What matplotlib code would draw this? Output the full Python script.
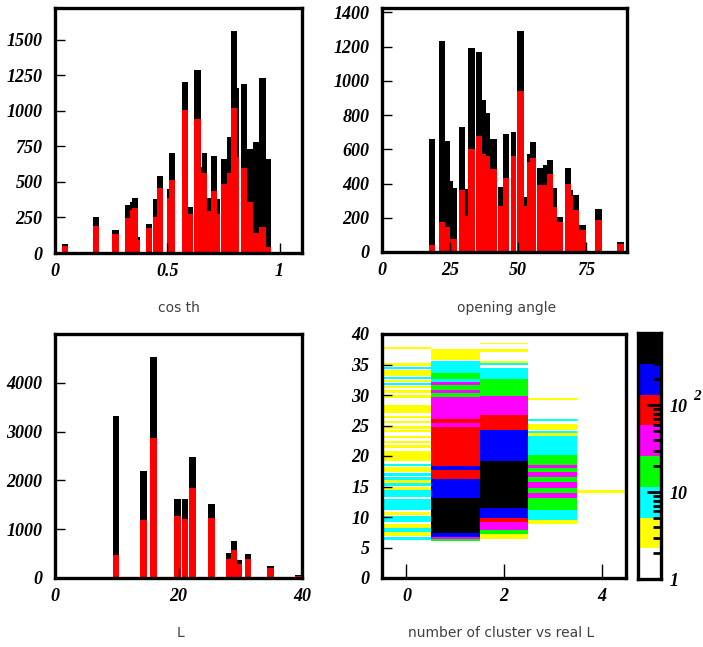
import numpy as np
import matplotlib
matplotlib.use('Agg')
from matplotlib import pyplot as plt
from matplotlib.colors import ListedColormap, LogNorm
from matplotlib.ticker import LogLocator, NullFormatter

# ---- cos th histogram: bar edges, all (black) and selected (red)
cos_lo  = [0.033, 0.170, 0.256, 0.311, 0.332, 0.344, 0.368, 0.404, 0.435, 0.456, 0.497, 0.509,
           0.564, 0.591, 0.619, 0.649, 0.653, 0.679, 0.695, 0.723, 0.738, 0.768, 0.783, 0.812,
           0.827, 0.854, 0.884, 0.910, 0.940]
cos_hi  = [0.059, 0.197, 0.283, 0.332, 0.344, 0.368, 0.380, 0.431, 0.456, 0.483, 0.509, 0.536,
           0.591, 0.613, 0.649, 0.653, 0.679, 0.695, 0.723, 0.735, 0.768, 0.783, 0.812, 0.821,
           0.854, 0.884, 0.910, 0.940, 0.961]
cos_all = [61, 253, 162, 338, 361, 385, 115, 204, 380, 545, 448, 702,
           1207, 326, 1289, 608, 702, 385, 685, 380, 660, 815, 1563, 1160,
           1188, 730, 784, 1230, 660]
cos_sel = [52, 190, 131, 249, 303, 315, 92, 176, 256, 460, 385, 514,
           1007, 272, 941, 561, 566, 298, 439, 272, 484, 561, 1019, 678,
           601, 361, 139, 181, 45]

# ---- opening angle histogram
ang_lo  = [17.4, 21.1, 23.2, 25.0, 26.0, 28.2, 30.6, 31.7, 34.6, 36.6, 38.2, 39.7, 42.7, 44.3,
           47.3, 49.6, 52.2, 53.4, 54.4, 57.1, 59.0, 60.5, 62.7, 64.4, 67.3, 69.3, 70.3, 72.2,
           78.3, 86.4]
ang_hi  = [19.6, 23.2, 25.0, 26.0, 27.7, 30.6, 31.7, 34.2, 36.6, 38.2, 39.7, 42.1, 44.3, 46.8,
           49.2, 52.2, 53.4, 54.4, 56.6, 59.0, 60.5, 62.7, 64.4, 66.4, 69.3, 70.3, 72.2, 74.9,
           80.8, 88.9]
ang_all = [661, 1235, 648, 414, 375, 731, 366, 1189, 1167, 885, 813, 658, 381, 687,
           700, 1288, 321, 574, 640, 490, 510, 539, 374, 202, 490, 360, 335, 160,
           253, 60]
ang_sel = [39, 175, 146, 78, 78, 360, 210, 603, 677, 570, 560, 482, 268, 434,
           558, 938, 270, 523, 549, 393, 393, 457, 263, 175, 399, 325, 247, 130,
           189, 47]

# ---- L histogram
L_lo  = [9.45, 13.8, 15.4, 19.3, 20.5, 21.7, 24.8, 27.7, 28.5, 29.5, 30.8, 34.4, 38.8]
L_hi  = [10.4, 14.85, 16.5, 20.4, 21.5, 22.8, 25.9, 28.5, 29.5, 30.3, 31.8, 35.4, 39.8]
L_all = [3317, 2195, 4534, 1627, 1627, 2482, 1525, 520, 759, 362, 499, 253, 62]
L_sel = [479, 1198, 2865, 1265, 1217, 1846, 1231, 397, 567, 294, 397, 198, 48]

# ---- number of cluster vs real L : per column (L from, L to, entries)
ncl_0 = [(37.5, 37.9, 3), (34.8, 35.2, 3), (34.2, 34.6, 8), (33.1, 34.1, 3), (32.7, 33.0, 8),
         (32.1, 32.5, 3), (31.6, 32.0, 8), (31.1, 31.5, 3), (30.4, 30.8, 3), (29.5, 30.0, 3),
         (27.1, 28.4, 3), (26.2, 26.5, 3), (25.4, 25.8, 3), (24.5, 24.9, 3), (24.0, 24.3, 3),
         (23.0, 23.3, 3), (22.2, 22.5, 3), (21.3, 21.8, 3), (19.2, 20.9, 3), (18.3, 18.7, 8),
         (17.3, 18.2, 3), (16.8, 17.2, 8), (16.1, 16.5, 8), (15.5, 16.0, 3), (15.1, 15.5, 8),
         (14.5, 14.9, 3), (13.2, 14.4, 8), (11.1, 13.0, 8), (10.4, 10.9, 3), (9.1, 10.2, 8),
         (8.2, 8.8, 3), (7.6, 8.2, 8), (6.9, 7.5, 3), (6.3, 6.8, 8)]
ncl_1 = [(35.7, 37.5, 3), (35.2, 35.6, 8), (33.6, 35.2, 8), (32.7, 33.6, 18), (32.2, 32.7, 8),
         (31.6, 32.2, 40), (30.8, 31.6, 18), (30.3, 30.8, 40), (29.7, 30.3, 18), (26.0, 29.7, 40),
         (25.4, 26.0, 90), (24.8, 25.4, 40), (18.3, 24.8, 90), (17.7, 18.3, 200), (16.3, 17.7, 90),
         (13.1, 16.3, 200), (7.3, 13.1, 450), (6.8, 7.3, 200), (6.4, 6.8, 40), (6.0, 6.4, 18)]
ncl_2 = [(38.3, 38.6, 3), (37.1, 37.5, 3), (35.2, 35.5, 3), (34.9, 35.2, 8), (32.7, 34.4, 8),
         (29.8, 32.7, 18), (26.7, 29.8, 40), (24.3, 26.7, 90), (19.1, 24.3, 200), (11.4, 19.1, 450),
         (9.8, 11.4, 200), (9.2, 9.8, 90), (7.9, 9.2, 40), (7.2, 7.9, 18), (6.4, 7.2, 3)]
ncl_3 = [(29.2, 29.5, 3), (25.7, 26.0, 8), (24.3, 25.3, 3), (23.7, 24.1, 8), (23.3, 23.7, 3),
         (20.1, 23.3, 8), (18.6, 20.1, 18), (18.1, 18.6, 40), (17.3, 18.1, 18), (16.6, 17.3, 40),
         (15.8, 16.6, 18), (14.7, 15.8, 40), (13.9, 14.7, 18), (13.1, 13.9, 40), (11.2, 13.1, 18),
         (9.5, 11.2, 8), (8.8, 9.5, 3)]
ncl_4 = [(14.0, 14.4, 3)]
ncl_cols = [ncl_0, ncl_1, ncl_2, ncl_3, ncl_4]
z_max = 681

root_colors = ['white', '#ffff00', '#00ffff', '#00ff00', '#ff00ff', '#ff0000', '#0000ff', 'black']

tick_font = dict(family='Liberation Serif', weight='bold', style='italic', size=13)
lab_font = dict(family='DejaVu Sans', size=10, color='#404040')

fig = plt.figure(figsize=(7.03, 6.47), dpi=100)


def frame(ax):
    for s in ax.spines.values():
        s.set_linewidth(2.4)
    ax.tick_params(direction='in', length=7, width=1, pad=7, top=False, right=False)
    ax.tick_params(axis='y', pad=9)
    for t in ax.get_xticklabels() + ax.get_yticklabels():
        t.set(**tick_font)


def hist(rect, lo, hi, allv, sel, xlim, ylim, xt, xtl, yt):
    ax = fig.add_axes(rect)
    lo = np.array(lo); hi = np.array(hi)
    ax.bar(lo, allv, width=hi - lo, align='edge', color='black', lw=0)
    ax.bar(lo, sel, width=hi - lo, align='edge', color='red', lw=0)
    ax.axhline(0, color='red', lw=2)
    ax.set_xlim(xlim); ax.set_ylim(ylim)
    ax.set_xticks(xt); ax.set_xticklabels(xtl)
    ax.set_yticks(yt)
    frame(ax)
    return ax


W, H = 703.0, 647.0
def box(l, r, t, b):
    return [l / W, 1 - b / H, (r - l) / W, (b - t) / H]

hist(box(55, 302, 8, 253), cos_lo, cos_hi, cos_all, cos_sel, (0, 1.1), (0, 1725),
     [0, 0.5, 1], ['0', '0.5', '1'], np.arange(0, 1501, 250))
hist(box(382, 627, 8, 252), ang_lo, ang_hi, ang_all, ang_sel, (0, 90), (0, 1425),
     [0, 25, 50, 75], ['0', '25', '50', '75'], np.arange(0, 1401, 200))
hist(box(55, 302, 334, 578), L_lo, L_hi, L_all, L_sel, (0, 40), (0, 5000),
     [0, 20, 40], ['0', '20', '40'], np.arange(0, 4001, 1000))

# 2D plot
ax = fig.add_axes(box(382, 626, 334, 578))
yedges = np.arange(0, 40.001, 0.1)
yc = 0.5 * (yedges[:-1] + yedges[1:])
z = np.zeros((len(yc), len(ncl_cols)))
for col, segs in enumerate(ncl_cols):
    for y0, y1, n in segs:
        z[(yc >= y0) & (yc < y1), col] = n
cmap = ListedColormap(root_colors)
norm = LogNorm(vmin=1, vmax=z_max)
ax.pcolormesh(np.arange(-0.5, len(ncl_cols)), yedges, np.ma.masked_equal(z, 0),
              cmap=cmap, norm=norm)
ax.set_xlim(-0.5, 4.5); ax.set_ylim(0, 40)
ax.set_xticks([0, 2, 4]); ax.set_yticks(np.arange(0, 41, 5))
frame(ax)
ax.tick_params(axis='x', length=10)

# palette axis (log z)
cax = fig.add_axes(box(638, 661, 333, 579))
zb = np.logspace(0, np.log10(z_max), len(root_colors) + 1)
cax.pcolormesh([0, 1], zb, np.sqrt(zb[:-1] * zb[1:])[:, None], cmap=cmap, norm=norm)
cax.set_yscale('log')
cax.set_ylim(1, z_max); cax.set_xlim(0, 1)
cax.set_axisbelow(False)
cax.set_xticks([])
cax.yaxis.tick_right()
cax.set_yticks([1, 10, 100])
cax.set_yticklabels(['1', '10', '10'])
cax.yaxis.set_minor_locator(LogLocator(base=10, subs=np.arange(2, 10), numticks=20))
cax.yaxis.set_minor_formatter(NullFormatter())
cax.tick_params(which='major', direction='in', length=10, width=2, pad=6, colors='black')
cax.tick_params(which='minor', direction='in', length=6, width=2, colors='black')
for s in cax.spines.values():
    s.set_linewidth(2.4)
for t in cax.get_yticklabels():
    t.set(**tick_font)
fig.text(693 / W, 1 - 396 / H, '2', ha='left', va='center', **dict(tick_font, size=11))

fig.text(179 / W, 1 - 308 / H, 'cos th', ha='center', va='center', **lab_font)
fig.text(507 / W, 1 - 308 / H, 'opening angle', ha='center', va='center', **lab_font)
fig.text(180 / W, 1 - 633 / H, 'L', ha='center', va='center', **lab_font)
fig.text(501 / W, 1 - 633 / H, 'number of cluster vs real L', ha='center', va='center', **lab_font)

fig.savefig('out.png', dpi=100)
